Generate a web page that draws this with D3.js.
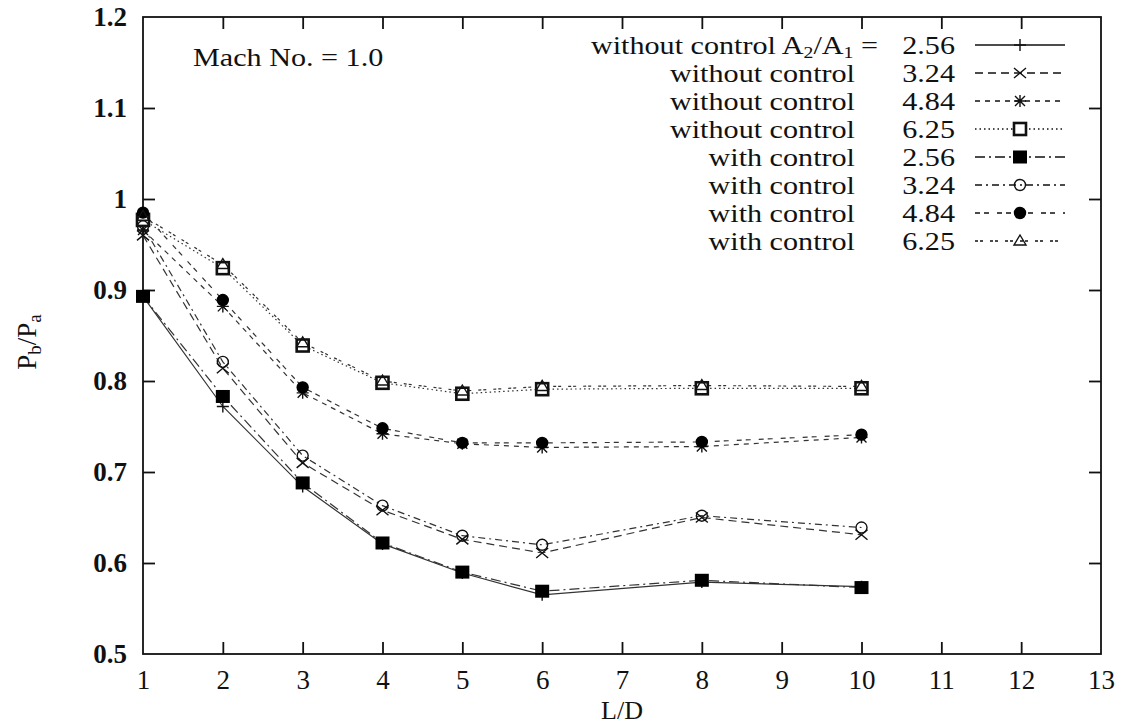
<!DOCTYPE html>
<html>
<head>
<meta charset="utf-8">
<script src="https://cdn.jsdelivr.net/npm/d3@7"></script>
<style>
  body { margin: 0; background: #fff; }
  svg text { font-family: "Liberation Serif", "Times New Roman", serif; fill: #111; }
</style>
</head>
<body>
<svg id="chart" width="1123" height="724"></svg>
<script>
// L/D positions where pressure was measured
const ldValues = [1, 2, 3, 4, 5, 6, 8, 10];

// Pb/Pa readings, one list per curve
const withoutControl256 = [0.893, 0.772, 0.684, 0.621, 0.589, 0.565, 0.579, 0.574];
const withoutControl324 = [0.960, 0.814, 0.710, 0.658, 0.626, 0.611, 0.650, 0.631];
const withoutControl484 = [0.966, 0.882, 0.787, 0.742, 0.731, 0.727, 0.728, 0.738];
const withoutControl625 = [0.977, 0.924, 0.839, 0.798, 0.786, 0.791, 0.792, 0.792];
const withControl256 = [0.893, 0.783, 0.688, 0.622, 0.590, 0.569, 0.581, 0.573];
const withControl324 = [0.970, 0.821, 0.718, 0.663, 0.630, 0.620, 0.652, 0.639];
const withControl484 = [0.985, 0.889, 0.793, 0.748, 0.732, 0.732, 0.733, 0.741];
const withControl625 = [0.981, 0.928, 0.842, 0.800, 0.789, 0.794, 0.795, 0.794];

// legend labels
const seriesLabels = ["without control", "without control", "without control", "without control",
  "with control", "with control", "with control", "with control"];
const ratioLabels = ["2.56", "3.24", "4.84", "6.25", "2.56", "3.24", "4.84", "6.25"];

// tick labels
const xTicks = [1, 2, 3, 4, 5, 6, 7, 8, 9, 10, 11, 12, 13];
const yTicks = [0.5, 0.6, 0.7, 0.8, 0.9, 1.0, 1.1, 1.2];

const series = [
  { values: withoutControl256, dash: null, marker: "plus" },
  { values: withoutControl324, dash: "8,5", marker: "cross" },
  { values: withoutControl484, dash: "5,5", marker: "star" },
  { values: withoutControl625, dash: "1.5,3", marker: "openSquare" },
  { values: withControl256, dash: "10,4,2,4", marker: "filledSquare" },
  { values: withControl324, dash: "7,4,2,4", marker: "openCircle" },
  { values: withControl484, dash: "5,4,5,8", marker: "filledCircle" },
  { values: withControl625, dash: "3,2,3,7", marker: "triangle" }
].map((s, i) => ({ ...s, label: seriesLabels[i], ratio: ratioLabels[i] }));

const svg = d3.select("#chart");
const mLeft = 143, mRight = 1101, mTop = 17, mBottom = 654;
const serif = "'Liberation Serif', 'Times New Roman', serif";
const stretch = 1.16; // the original lettering is a bit wide

const x = d3.scaleLinear().domain([1, 13]).range([mLeft, mRight]);
const y = d3.scaleLinear().domain([0.5, 1.2]).range([mBottom, mTop]);

// frame
svg.append("rect")
  .attr("x", mLeft).attr("y", mTop)
  .attr("width", mRight - mLeft).attr("height", mBottom - mTop)
  .attr("fill", "none").attr("stroke", "#111").attr("stroke-width", 1.8);

// axes with inward ticks (mirrored)
const tickLen = 12;
const bottomAxis = svg.append("g").attr("transform", `translate(0,${mBottom})`)
  .call(d3.axisBottom(x).tickValues(xTicks).tickSize(-tickLen).tickFormat(d3.format("d")).tickPadding(20));
const topAxis = svg.append("g").attr("transform", `translate(0,${mTop})`)
  .call(d3.axisTop(x).tickValues(xTicks).tickSize(-tickLen).tickFormat(""));
const leftAxis = svg.append("g").attr("transform", `translate(${mLeft},0)`)
  .call(d3.axisLeft(y).tickValues(yTicks).tickSize(-tickLen).tickFormat(d => String(+d.toFixed(1))).tickPadding(16));
const rightAxis = svg.append("g").attr("transform", `translate(${mRight},0)`)
  .call(d3.axisRight(y).tickValues(yTicks).tickSize(-tickLen).tickFormat(""));

[bottomAxis, topAxis, leftAxis, rightAxis].forEach(g => {
  g.attr("font-family", serif);
  g.select(".domain").remove();
  g.selectAll(".tick line").attr("stroke", "#111").attr("stroke-width", 1.8);
  g.selectAll(".tick text")
    .attr("font-size", 27)
    .attr("fill", "#111");
});
// drop end ticks that fall on the frame
bottomAxis.selectAll(".tick").filter(d => d === 1 || d === 13).select("line").remove();
topAxis.selectAll(".tick").filter(d => d === 1 || d === 13).select("line").remove();
leftAxis.selectAll(".tick").filter(d => d === 0.5 || d === 1.2).select("line").remove();
rightAxis.selectAll(".tick").filter(d => d === 0.5 || d === 1.2).select("line").remove();
leftAxis.selectAll(".tick text").attr("font-weight", "bold");
bottomAxis.selectAll(".tick text").attr("dy", "0.55em");

// axis titles
svg.append("text")
  .attr("x", (mLeft + mRight) / 2)
  .attr("y", 719)
  .attr("text-anchor", "middle")
  .style("font-family", serif)
  .style("font-size", "26px")
  .text("L/D");

const yTitle = svg.append("text")
  .attr("transform", "translate(36,342) rotate(-90)")
  .attr("text-anchor", "middle")
  .style("font-family", serif)
  .style("font-size", "27px");
yTitle.append("tspan").text("P");
yTitle.append("tspan").attr("baseline-shift", "-25%").style("font-size", "19px").text("b");
yTitle.append("tspan").text("/P");
yTitle.append("tspan").attr("baseline-shift", "-25%").style("font-size", "19px").text("a");

svg.append("text")
  .attr("transform", `translate(193,66) scale(${stretch},1)`)
  .style("font-family", serif)
  .style("font-size", "26px")
  .text("Mach No. = 1.0");

// markers
function drawMarker(g, type, cx, cy) {
  const k = g.append("g").attr("transform", `translate(${cx},${cy})`);
  const st = { stroke: "#111", "stroke-width": 1.4, fill: "none" };
  const apply = (sel, attrs) => { Object.entries(attrs).forEach(([a, v]) => sel.attr(a, v)); return sel; };
  if (type === "plus") {
    apply(k.append("path").attr("d", "M-6,0H6M0,-6V6"), st);
  } else if (type === "cross") {
    apply(k.append("path").attr("d", "M-6,-5L6,5M-6,5L6,-5"), st);
  } else if (type === "star") {
    apply(k.append("path").attr("d", "M-6,0H6M0,-6V6M-5,-5L5,5M-5,5L5,-5"), st);
  } else if (type === "openSquare") {
    apply(k.append("rect").attr("x", -6).attr("y", -6).attr("width", 12).attr("height", 12), { ...st, "stroke-width": 2.6, fill: "#fff" });
  } else if (type === "filledSquare") {
    apply(k.append("rect").attr("x", -7).attr("y", -6.5).attr("width", 14).attr("height", 13), { ...st, fill: "#000", stroke: "none" });
  } else if (type === "openCircle") {
    apply(k.append("circle").attr("r", 5.5), st);
  } else if (type === "filledCircle") {
    apply(k.append("circle").attr("r", 5.5), { ...st, fill: "#000", stroke: "#000" });
  } else if (type === "triangle") {
    apply(k.append("path").attr("d", "M0,-6L6,4H-6Z"), st);
  }
}

// curves
const line = d3.line().x((d, i) => x(ldValues[i])).y(d => y(d));
const curves = svg.append("g");
series.forEach(s => {
  curves.append("path")
    .datum(s.values)
    .attr("d", line)
    .attr("fill", "none")
    .attr("stroke", "#333")
    .attr("stroke-width", 1.2)
    .attr("stroke-dasharray", s.dash);
});
const marks = svg.append("g");
series.forEach(s => {
  s.values.forEach((v, i) => drawMarker(marks, s.marker, x(ldValues[i]), y(v)));
});

// legend
const legendTop = 45, rowGap = 28;
const legend = svg.append("g");
series.forEach((s, i) => {
  const ry = legendTop + i * rowGap;
  const label = legend.append("text")
    .attr("transform", `translate(${i === 0 ? 878 : 855},${ry + 9}) scale(${stretch},1)`)
    .attr("text-anchor", "end")
    .style("font-family", serif)
    .style("font-size", "26px");
  label.append("tspan").text(s.label);
  if (i === 0) {
    // A2/A1 = on the first row
    label.append("tspan").text(" A");
    label.append("tspan").attr("dy", 4).style("font-size", "17px").text("2");
    label.append("tspan").attr("dy", -4).text("/A");
    label.append("tspan").attr("dy", 4).style("font-size", "17px").text("1");
    label.append("tspan").attr("dy", -4).text(" =");
  }
  legend.append("text")
    .attr("transform", `translate(955,${ry + 9}) scale(${stretch},1)`)
    .attr("text-anchor", "end")
    .style("font-family", serif)
    .style("font-size", "26px")
    .text(s.ratio);
  legend.append("line")
    .attr("x1", 975).attr("x2", 1065)
    .attr("y1", ry).attr("y2", ry)
    .attr("stroke", "#111")
    .attr("stroke-width", 1.3)
    .attr("stroke-dasharray", s.dash);
  drawMarker(legend, s.marker, 1020, ry);
});
</script>
</body>
</html>
